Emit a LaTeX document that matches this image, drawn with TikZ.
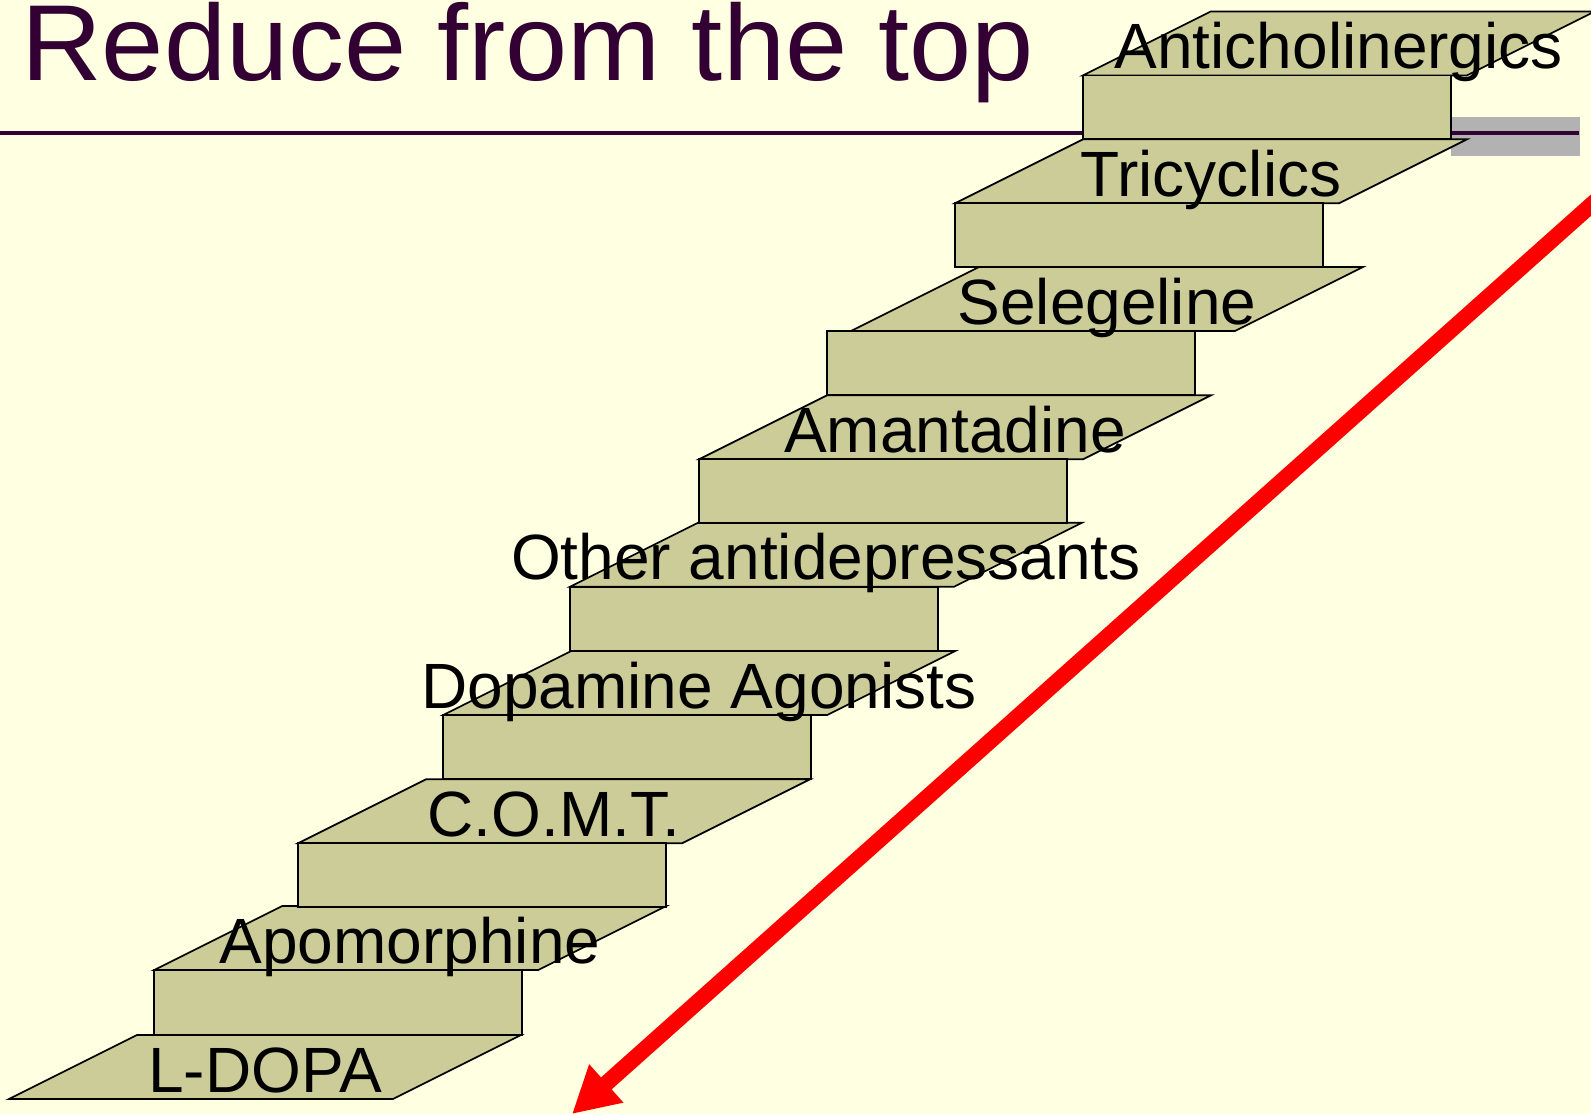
\documentclass[tikz,border=0pt]{standalone}
\usepackage{fontspec}
\setmainfont{Liberation Sans}
\usetikzlibrary{arrows.meta}
\definecolor{bgc}{HTML}{FFFFE1}
\definecolor{treadc}{HTML}{CCCC99}
\definecolor{titlec}{HTML}{330033}
\definecolor{barc}{HTML}{B2B2B2}
\begin{document}
\begin{tikzpicture}[x=1pt,y=-1pt,
  tread/.style={fill=treadc,draw=black,line width=1.7pt,line join=miter},
  riser/.style={fill=treadc,draw=black,line width=1.7pt},
  lbl/.style={font=\fontsize{64}{64}\selectfont,anchor=base,inner sep=0pt,text=black},
  ttl/.style={font=\fontsize{108}{108}\selectfont,anchor=base west,inner sep=0pt,text=titlec},
  redarrow/.style={draw=red,line width=16pt,-{Triangle[length=46pt,width=48pt]}}]
\useasboundingbox (0,0) rectangle (1591,1114);
\clip (0,0) rectangle (1591,1114);
\fill[bgc] (0,0) rectangle (1591,1114);
% title rule and grey bar
\fill[barc] (1451,117.3) rectangle (1580,155.7);
\coordinate (ruleL) at (0,133);
\coordinate (ruleR) at (1579,133);
\draw[titlec,line width=4pt] (ruleL) -- (ruleR);
\node[ttl] (title) at (21,80.5) {\scalebox{1.035}[1]{Reduce from the top}};
% treads
\foreach \bl/\yb in {9/1099,154.3/970,298/843.3,443.3/715,570/586.7,699/459.3,851/331,955/203.3,1082.7/75.5}{
  \draw[tread] (\bl,\yb) -- ++(384,0) -- ++(128,-64) -- ++(-384,0) -- cycle;
}
% risers
\foreach \rl/\ya/\yt in {154.3/1035/970,298/906.7/843.3,443.3/779.3/715,570/651/586.7,699/522.7/459.3,826.7/395.3/331,955/267/203.3,1082.7/139.3/75.5}{
  \draw[riser] (\rl,\ya) rectangle ({\rl+368},\yt);
}
% labels
\node[lbl] (l0) at (265,1092) {L-DOPA};
\node[lbl] (l1) at (410,963) {Apomorphine};
\node[lbl] (l2) at (554,836.3) {C.O.M.T.};
\node[lbl] (l3) at (699,708) {Dopamine Agonists};
\node[lbl] (l4) at (826,579.7) {Other antidepressants};
\node[lbl] (l5) at (955,452.3) {Amantadine};
\node[lbl] (l6) at (1107,324) {Selegeline};
\node[lbl] (l7) at (1211,196.3) {Tricyclics};
\node[lbl] (l8) at (1338.7,68.5) {Anticholinergics};
% arrow
\coordinate (astart) at (1650,152.5);
\coordinate (atip) at (572,1114);
\draw[redarrow] (astart) -- (atip);
\end{tikzpicture}
\end{document}
